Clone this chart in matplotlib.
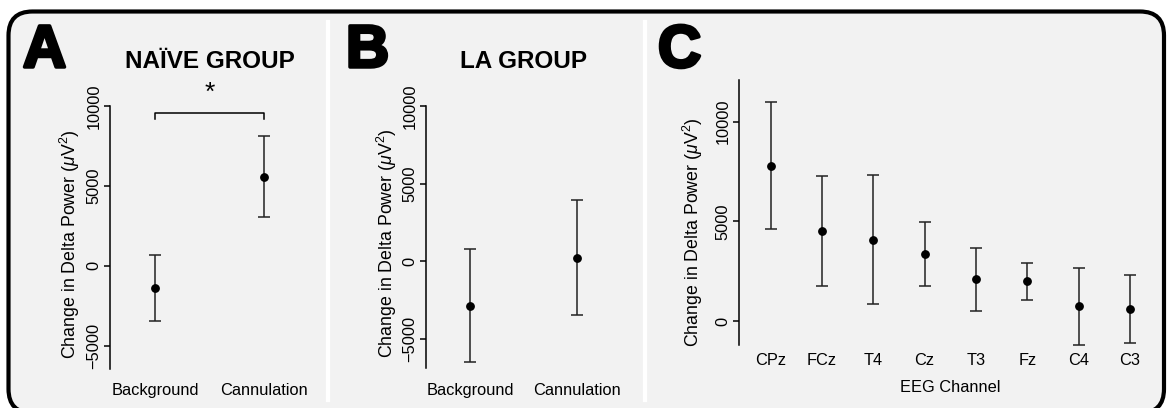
import numpy as np
import matplotlib
matplotlib.use("Agg")
from matplotlib import pyplot as plt
from matplotlib.patches import FancyBboxPatch
import matplotlib.patheffects as pe

plt.rcParams['font.family'] = ['Liberation Sans', 'DejaVu Sans']
plt.rcParams['mathtext.fontset'] = 'custom'
plt.rcParams['mathtext.it'] = 'Liberation Sans:italic'
plt.rcParams['mathtext.rm'] = 'Liberation Sans'

# panel A: naive group
groups = ['Background', 'Cannulation']
naive_mean = [-1415, 5570]
naive_upper = [650, 8120]
naive_lower = [-3460, 3050]

# panel B: LA group
la_mean = [-2876, 232]
la_upper = [772, 3945]
la_lower = [-6500, -3475]

# panel C: per channel
channels = ['CPz', 'FCz', 'T4', 'Cz', 'T3', 'Fz', 'C4', 'C3']
chan_mean = [7795, 4524, 4088, 3357, 2104, 2019, 751, 616]
chan_upper = [11000, 7295, 7315, 4960, 3672, 2936, 2670, 2335]
chan_lower = [4610, 1768, 867, 1784, 531, 1082, -1172, -1072]

ylab = r'Change in Delta Power ($\mu$V$^2$)'

W, H = 1167, 408
fig = plt.figure(figsize=(W / 100, H / 100), dpi=100)
fig.patch.set_facecolor('white')

# rounded outer frame (in inches, 1 in = 100 px)
frame = FancyBboxPatch((0.085, (H - 413) / 100), (1164 - 8.5) / 100, (413 - 11.5) / 100,
                       boxstyle='round,pad=0,rounding_size=0.24',
                       transform=fig.dpi_scale_trans, facecolor='#f2f2f2',
                       edgecolor='black', linewidth=3, clip_on=False, zorder=0)
fig.add_artist(frame)
for xs in (328, 645):
    fig.add_artist(plt.Line2D([xs / W, xs / W], [1 - 22 / H, 1 - 400 / H],
                              transform=fig.transFigure, color='white', lw=3, zorder=1))


def make_axes(box, xref, yref):
    # box in pixels (left, top, right, bottom); refs map pixels to data values
    left, top, right, bottom = box
    ax = fig.add_axes([left / W, 1 - bottom / H, (right - left) / W, (bottom - top) / H])
    (px1, v1), (px2, v2) = xref
    sx = (v2 - v1) / (px2 - px1)
    ax.set_xlim(v1 + (left - px1) * sx, v1 + (right - px1) * sx)
    (py1, w1), (py2, w2) = yref
    sy = (w2 - w1) / (py2 - py1)
    ax.set_ylim(w1 + (bottom - py1) * sy, w1 + (top - py1) * sy)
    ax.patch.set_alpha(0)
    for s in ('top', 'right', 'bottom'):
        ax.spines[s].set_visible(False)
    ax.spines['left'].set_linewidth(1.1)
    ax.tick_params(axis='x', length=0, labelsize=11.8, pad=8)
    ax.tick_params(axis='y', length=4, width=1.1, labelsize=11.8, pad=2, labelrotation=90)
    return ax


def draw_bars(ax, mean, upper, lower):
    x = np.arange(len(mean))
    mean = np.array(mean)
    err = [mean - np.array(lower), np.array(upper) - mean]
    ax.errorbar(x, mean, yerr=err, fmt='o', color='black', ecolor='#222222',
                elinewidth=1.1, capsize=4.6, capthick=1.1, markersize=5.3)


# ---- A ----
axA = make_axes((110, 75, 318, 372), ((155, 0), (264.3, 1)), ((265.7, 0), (106, 10000)))
draw_bars(axA, naive_mean, naive_upper, naive_lower)
axA.set_xticks([0, 1], groups)
axA.set_yticks([-5000, 0, 5000, 10000])
axA.spines['left'].set_bounds(-6450, 10000)
axA.plot([0, 0, 1, 1], [9200, 9550, 9550, 9200], color='black', lw=1.1)
axA.text(0.5, 10850, '*', ha='center', va='center', fontsize=19)

# ---- B ----
axB = make_axes((426, 75, 640, 372), ((470, 0), (576.7, 1)), ((261.3, 0), (106, 10000)))
draw_bars(axB, la_mean, la_upper, la_lower)
axB.set_xticks([0, 1], groups)
axB.set_yticks([-5000, 0, 5000, 10000])
axB.spines['left'].set_bounds(-6850, 10000)

# ---- C ----
axC = make_axes((739, 75, 1160, 350), ((770.7, 0), (1130, 7)), ((321.3, 0), (121.7, 10000)))
draw_bars(axC, chan_mean, chan_upper, chan_lower)
axC.set_xticks(np.arange(len(channels)), channels)
axC.tick_params(axis='x', pad=2)
axC.set_yticks([0, 5000, 10000])
axC.spines['left'].set_bounds(-1190, 12090)

for ax in (axA, axB, axC):
    for lab in ax.get_yticklabels():
        lab.set_va('center')

# labels and titles
fig.text(70 / W, 1 - 244 / H, ylab, rotation=90, ha='center', va='center', fontsize=12.8)
fig.text(387 / W, 1 - 243 / H, ylab, rotation=90, ha='center', va='center', fontsize=12.8)
fig.text(693 / W, 1 - 232 / H, ylab, rotation=90, ha='center', va='center', fontsize=12.8)
fig.text(950 / W, 1 - 388 / H, 'EEG Channel', ha='center', va='center', fontsize=11.8)

fig.text(209.5 / W, 1 - 68 / H, 'NAÏVE GROUP', ha='center', va='baseline',
         fontsize=17.5, fontweight='bold')
fig.text(523 / W, 1 - 68 / H, 'LA GROUP', ha='center', va='baseline',
         fontsize=17.5, fontweight='bold')

heavy = [pe.withStroke(linewidth=2.5, foreground='black')]
for letter, xl in (('A', 23), ('B', 346), ('C', 658)):
    fig.text(xl / W, 1 - 67 / H, letter, ha='left', va='baseline', fontsize=43,
             fontweight='bold', path_effects=heavy)

fig.savefig('out.png', dpi=100)
